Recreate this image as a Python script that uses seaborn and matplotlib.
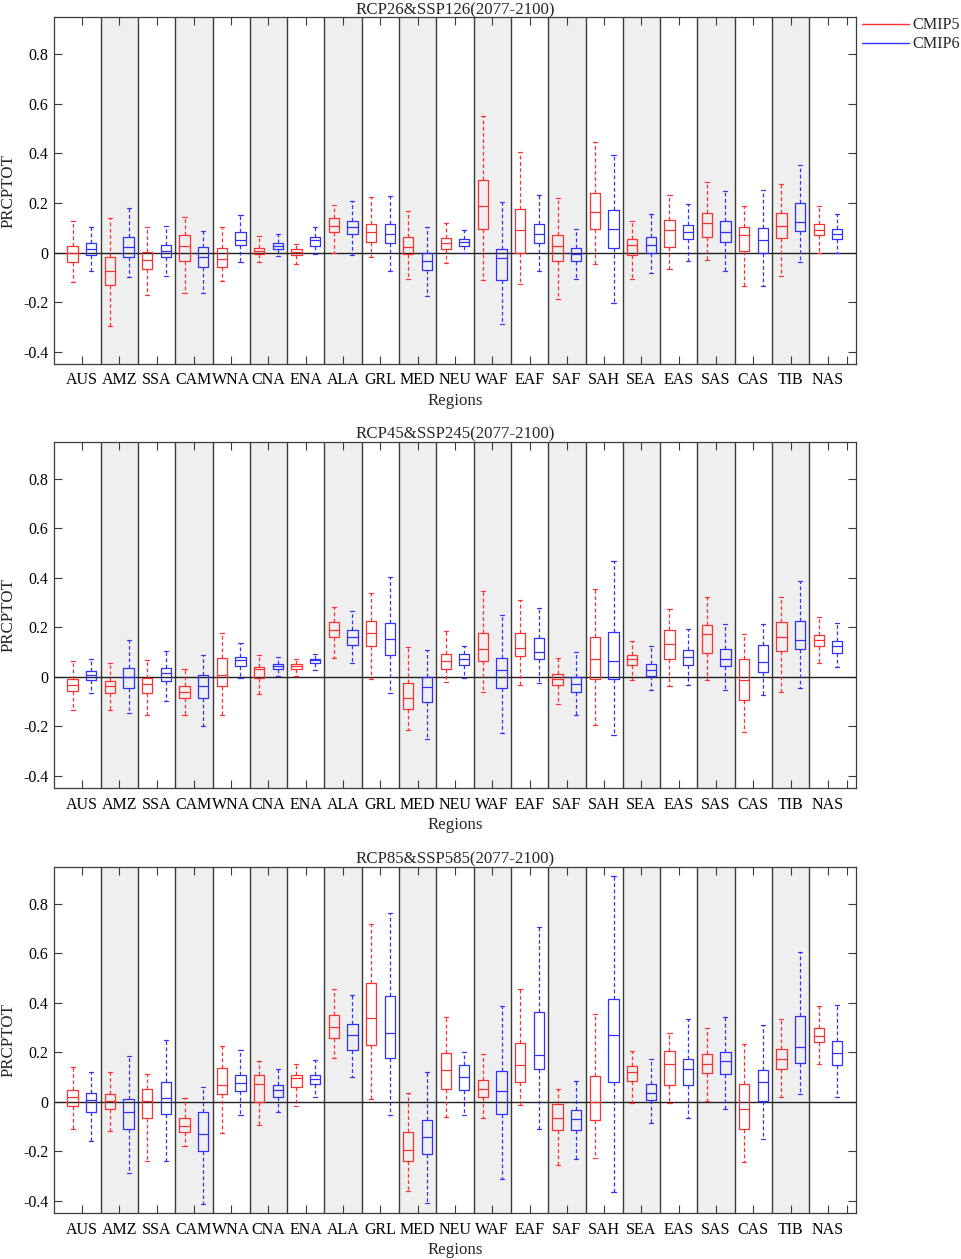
import numpy as np
import pandas as pd
import matplotlib
matplotlib.use("Agg")
from matplotlib import pyplot as plt
from matplotlib.lines import Line2D
import seaborn as sns

sns.set_style("ticks")
plt.rcParams["font.family"] = ["Liberation Serif", "DejaVu Serif"]
plt.rcParams["axes.unicode_minus"] = False

regions = ['AUS', 'AMZ', 'SSA', 'CAM', 'WNA', 'CNA', 'ENA', 'ALA', 'GRL', 'MED', 'NEU',
           'WAF', 'EAF', 'SAF', 'SAH', 'SEA', 'EAS', 'SAS', 'CAS', 'TIB', 'NAS']
models = ['CMIP5', 'CMIP6']
model_colors = ['#FF3030', '#3030FF']
titles = ['RCP26&SSP126(2077-2100)', 'RCP45&SSP245(2077-2100)', 'RCP85&SSP585(2077-2100)']

# five-number summaries per region: (min, q1, median, q3, max)
s126_cmip5 = [(-0.121, -0.039, -0.003, 0.027, 0.128), (-0.297, -0.132, -0.074, -0.020, 0.138),
              (-0.171, -0.067, -0.030, 0.001, 0.102), (-0.165, -0.034, 0.027, 0.070, 0.143),
              (-0.116, -0.059, -0.026, 0.020, 0.105), (-0.038, -0.007, 0.008, 0.020, 0.065),
              (-0.047, -0.011, 0.003, 0.013, 0.035), (-0.003, 0.082, 0.109, 0.140, 0.190),
              (-0.019, 0.043, 0.082, 0.115, 0.223), (-0.108, -0.007, 0.024, 0.061, 0.167),
              (-0.042, 0.015, 0.038, 0.058, 0.119), (-0.111, 0.094, 0.186, 0.293, 0.550),
              (-0.128, 0.000, 0.089, 0.174, 0.405), (-0.189, -0.034, 0.028, 0.070, 0.221),
              (-0.047, 0.097, 0.162, 0.239, 0.445), (-0.105, -0.011, 0.031, 0.054, 0.127),
              (-0.065, 0.024, 0.090, 0.131, 0.231), (-0.030, 0.062, 0.121, 0.159, 0.283),
              (-0.135, 0.008, 0.070, 0.105, 0.189), (-0.094, 0.057, 0.108, 0.160, 0.278),
              (0.000, 0.069, 0.089, 0.117, 0.189)]
s126_cmip6 = [(-0.074, -0.008, 0.013, 0.038, 0.105), (-0.100, -0.020, 0.024, 0.061, 0.179),
              (-0.094, -0.019, 0.007, 0.032, 0.109), (-0.165, -0.057, -0.018, 0.024, 0.086),
              (-0.039, 0.030, 0.051, 0.081, 0.151), (-0.016, 0.015, 0.028, 0.038, 0.073),
              (-0.007, 0.028, 0.049, 0.061, 0.105), (-0.011, 0.073, 0.104, 0.129, 0.209),
              (-0.073, 0.039, 0.073, 0.115, 0.227), (-0.174, -0.070, -0.034, -0.003, 0.104),
              (-0.001, 0.028, 0.042, 0.054, 0.089), (-0.289, -0.111, -0.023, 0.015, 0.204),
              (-0.073, 0.038, 0.074, 0.116, 0.232), (-0.105, -0.034, -0.004, 0.018, 0.096),
              (-0.202, 0.018, 0.094, 0.170, 0.392), (-0.081, -0.003, 0.030, 0.061, 0.154),
              (-0.035, 0.054, 0.082, 0.113, 0.196), (-0.074, 0.042, 0.081, 0.127, 0.247),
              (-0.134, -0.003, 0.051, 0.100, 0.252), (-0.038, 0.085, 0.125, 0.198, 0.353),
              (0.000, 0.054, 0.074, 0.094, 0.156)]
s245_cmip5 = [(-0.135, -0.058, -0.034, -0.007, 0.063), (-0.135, -0.065, -0.038, -0.016, 0.054),
              (-0.156, -0.066, -0.028, -0.004, 0.066), (-0.155, -0.086, -0.061, -0.038, 0.030),
              (-0.156, -0.039, 0.009, 0.074, 0.175), (-0.070, -0.005, 0.031, 0.040, 0.089),
              (0.004, 0.031, 0.042, 0.050, 0.073), (0.075, 0.162, 0.191, 0.221, 0.280),
              (-0.008, 0.125, 0.175, 0.224, 0.338), (-0.214, -0.131, -0.086, -0.027, 0.121),
              (-0.022, 0.031, 0.063, 0.092, 0.185), (-0.062, 0.062, 0.112, 0.175, 0.347),
              (-0.032, 0.084, 0.117, 0.175, 0.312), (-0.108, -0.035, -0.008, 0.013, 0.077),
              (-0.193, -0.008, 0.071, 0.159, 0.353), (-0.013, 0.048, 0.071, 0.090, 0.144),
              (-0.038, 0.070, 0.131, 0.187, 0.273), (-0.012, 0.096, 0.172, 0.211, 0.323),
              (-0.221, -0.093, -0.013, 0.071, 0.171), (-0.062, 0.105, 0.162, 0.220, 0.322),
              (0.055, 0.124, 0.148, 0.170, 0.240)]
s245_cmip6 = [(-0.067, -0.013, 0.009, 0.022, 0.073), (-0.145, -0.046, 0.000, 0.034, 0.150),
              (-0.097, -0.016, 0.015, 0.036, 0.106), (-0.198, -0.085, -0.038, 0.009, 0.088),
              (-0.005, 0.044, 0.066, 0.081, 0.136), (0.004, 0.032, 0.043, 0.051, 0.078),
              (0.028, 0.055, 0.066, 0.071, 0.092), (0.054, 0.128, 0.162, 0.191, 0.264),
              (-0.066, 0.088, 0.152, 0.217, 0.403), (-0.252, -0.101, -0.043, 0.000, 0.110),
              (-0.005, 0.047, 0.071, 0.093, 0.123), (-0.228, -0.047, 0.027, 0.074, 0.251),
              (-0.023, 0.073, 0.100, 0.155, 0.276), (-0.155, -0.062, -0.030, 0.000, 0.100),
              (-0.234, -0.009, 0.063, 0.182, 0.469), (-0.055, 0.003, 0.026, 0.051, 0.123),
              (-0.034, 0.046, 0.081, 0.108, 0.195), (-0.053, 0.042, 0.073, 0.112, 0.214),
              (-0.073, 0.019, 0.059, 0.127, 0.214), (-0.046, 0.113, 0.149, 0.225, 0.388),
              (0.040, 0.096, 0.123, 0.144, 0.218)]
s585_cmip5 = [(-0.108, -0.015, 0.018, 0.047, 0.141), (-0.117, -0.030, 0.003, 0.030, 0.119),
              (-0.240, -0.067, 0.004, 0.050, 0.112), (-0.179, -0.120, -0.098, -0.065, 0.016),
              (-0.127, 0.030, 0.070, 0.137, 0.226), (-0.093, -0.001, 0.071, 0.109, 0.163),
              (-0.018, 0.058, 0.097, 0.110, 0.151), (0.179, 0.256, 0.303, 0.349, 0.455),
              (0.013, 0.228, 0.337, 0.481, 0.718), (-0.361, -0.237, -0.193, -0.120, 0.035),
              (-0.061, 0.053, 0.128, 0.198, 0.343), (-0.067, 0.019, 0.050, 0.088, 0.193),
              (-0.013, 0.082, 0.147, 0.238, 0.454), (-0.257, -0.112, -0.067, -0.008, 0.053),
              (-0.226, -0.073, 0.000, 0.106, 0.354), (-0.004, 0.084, 0.119, 0.143, 0.205),
              (-0.004, 0.067, 0.154, 0.206, 0.279), (0.003, 0.117, 0.151, 0.195, 0.298),
              (-0.244, -0.108, -0.028, 0.071, 0.232), (0.020, 0.133, 0.171, 0.214, 0.334),
              (0.152, 0.240, 0.267, 0.298, 0.387)]
s585_cmip6 = [(-0.158, -0.043, 0.007, 0.034, 0.121), (-0.286, -0.109, -0.039, 0.011, 0.187),
              (-0.240, -0.051, 0.016, 0.079, 0.248), (-0.413, -0.198, -0.129, -0.043, 0.059),
              (-0.055, 0.042, 0.078, 0.109, 0.211), (-0.040, 0.019, 0.048, 0.070, 0.133),
              (0.018, 0.071, 0.092, 0.110, 0.170), (0.100, 0.211, 0.268, 0.315, 0.431),
              (-0.055, 0.178, 0.276, 0.428, 0.761), (-0.409, -0.211, -0.143, -0.073, 0.121),
              (-0.054, 0.046, 0.101, 0.147, 0.202), (-0.310, -0.050, 0.042, 0.125, 0.385),
              (-0.110, 0.131, 0.191, 0.361, 0.706), (-0.229, -0.112, -0.071, -0.031, 0.085),
              (-0.364, 0.082, 0.269, 0.416, 0.910), (-0.085, 0.009, 0.036, 0.074, 0.171),
              (-0.066, 0.069, 0.133, 0.175, 0.334), (-0.027, 0.112, 0.163, 0.202, 0.342),
              (-0.149, 0.004, 0.082, 0.127, 0.312), (0.030, 0.156, 0.220, 0.346, 0.606),
              (0.018, 0.147, 0.197, 0.245, 0.393)]

scenarios = [(s126_cmip5, s126_cmip6), (s245_cmip5, s245_cmip6), (s585_cmip5, s585_cmip6)]
yticks = [-0.4, -0.2, 0, 0.2, 0.4, 0.6, 0.8]


def long_table(c5, c6):
    rows = []
    for j, (name, stats) in enumerate(zip(models, (c5, c6))):
        for i, five in enumerate(stats):
            for v in five:
                rows.append({"pos": 2 * i + 1 + j, "model": name, "value": v})
    return pd.DataFrame(rows)


fig = plt.figure(figsize=(9.62, 12.59), dpi=100)
bottoms = [0.7109, 0.3739, 0.0363]
dark = '#3a3a3a'

for k, (c5, c6) in enumerate(scenarios):
    ax = fig.add_axes([0.0561, bottoms[k], 0.8337, 0.2754])
    df = long_table(c5, c6)

    # shaded alternate regions and separators
    for i in range(len(regions)):
        if i % 2 == 1:
            ax.axvspan(2 * i + 0.5, 2 * i + 2.5, color='#EFEFEF', lw=0, zorder=0)
    for i in range(1, len(regions)):
        ax.axvline(2 * i + 0.5, color=dark, lw=1.0, zorder=1)
    ax.axhline(0, color='#202020', lw=1.0, zorder=1)

    sns.boxplot(data=df, x="pos", y="value", hue="model", palette=model_colors,
                native_scale=True, dodge=False, fill=False, width=0.55,
                whis=(0, 100), linewidth=0.9, legend=False, ax=ax,
                whiskerprops=dict(linestyle=(0, (3, 2))),
                capwidths=0.22, showfliers=False)

    ax.set_xlim(0, 43)
    ax.set_ylim(-0.45, 0.95)
    ax.set_xticks([2 * i + 1.5 for i in range(len(regions))] + [42.5])
    ax.set_xticklabels(regions + [''])
    ax.set_yticks(yticks)
    ax.set_yticklabels(['%g' % t for t in yticks])
    ax.tick_params(direction='in', length=5.8, width=0.8, color=dark,
                   top=True, right=True, labelsize=11.5, labelcolor='black')
    ax.tick_params(axis='x', pad=6)
    ax.tick_params(axis='y', pad=4)
    for s in ax.spines.values():
        s.set_color(dark)
        s.set_linewidth(0.9)
    ax.set_title(titles[k], fontsize=12.2, pad=2)
    ax.set_xlabel("Regions", fontsize=12.2)
    ax.set_ylabel("PRCPTOT", fontsize=12.2)
    ax.xaxis.set_label_coords(0.5, -0.084)
    ax.yaxis.set_label_coords(-0.047, 0.5)

    if k == 0:
        handles = [Line2D([], [], color=c, lw=1.0) for c in model_colors]
        ax.legend(handles, models, loc='upper left', bbox_to_anchor=(1.0075, 1.0),
                  frameon=False, fontsize=11.6, handlelength=2.9, handletextpad=0.2,
                  labelspacing=0.2, borderpad=0, borderaxespad=0)

fig.savefig("out.png", dpi=100)
